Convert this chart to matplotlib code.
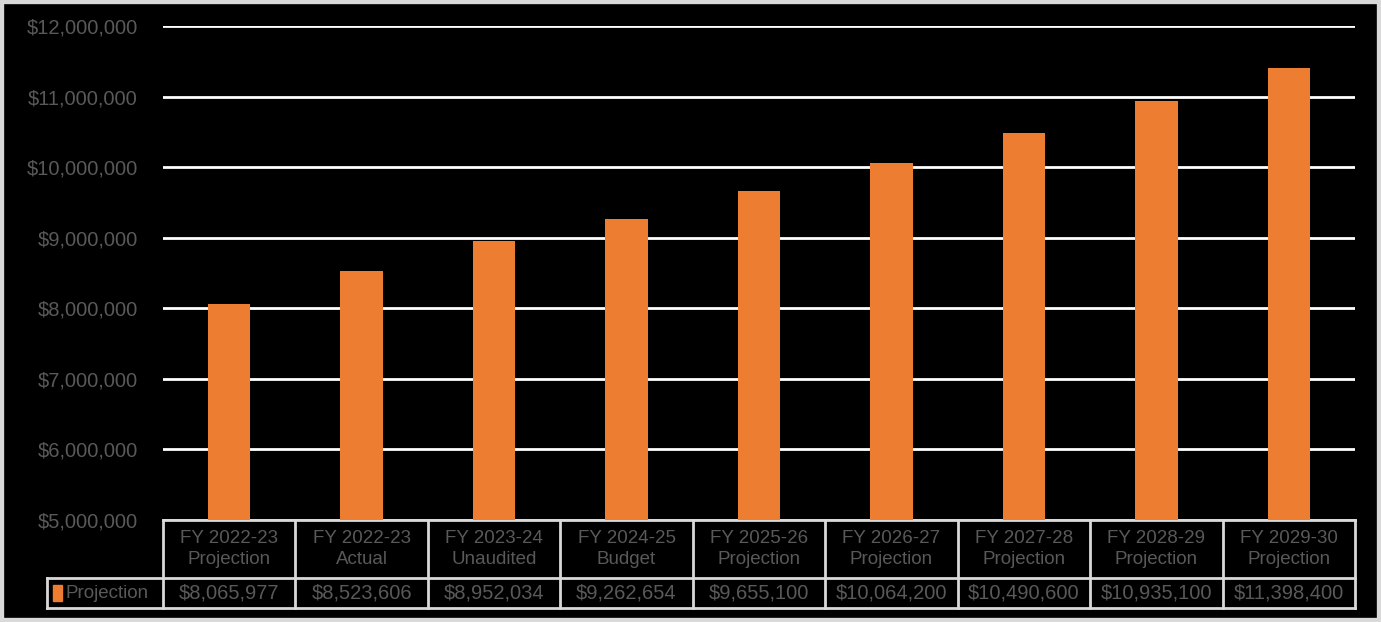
import matplotlib.pyplot as plt
from matplotlib.patches import Rectangle

plt.rcParams['font.family'] = ['Liberation Sans', 'DejaVu Sans']

# data
categories = ['FY 2022-23\nProjection', 'FY 2022-23\nActual', 'FY 2023-24\nUnaudited',
              'FY 2024-25\nBudget', 'FY 2025-26\nProjection', 'FY 2026-27\nProjection',
              'FY 2027-28\nProjection', 'FY 2028-29\nProjection', 'FY 2029-30\nProjection']
values = [8065977, 8523606, 8952034, 9262654, 9655100, 10064200, 10490600, 10935100, 11398400]
series_name = 'Projection'

bar_color = '#ED7D31'
text_color = '#595959'
line_color = '#d9d9d9'

fig = plt.figure(figsize=(13.81, 6.22), dpi=100, facecolor='black')
ax = fig.add_axes([163 / 1381, 1 - 520 / 622, (1355 - 163) / 1381, 494 / 622])
ax.set_facecolor('black')

x = list(range(len(categories)))
ax.bar(x, values, width=0.32, color=bar_color, zorder=3)

ax.set_xlim(-0.5, len(categories) - 0.5)
ax.set_ylim(5000000, 12000000)
ax.set_yticks(range(5000000, 12000001, 1000000))
ax.set_yticklabels(['${:,}'.format(v) for v in range(5000000, 12000001, 1000000)],
                   color=text_color, fontsize=14.5)
ax.tick_params(axis='y', length=0, pad=18)
ax.set_xticks([])
ax.grid(axis='y', color='white', linewidth=2, zorder=0)
for s in ax.spines.values():
    s.set_visible(False)

# data table below the axes
trans = ax.get_xaxis_transform()
h1 = -58 / 494
h2 = -88 / 494
left_legend = -0.5 - (163 - 47) / ((1355 - 163) / 9)
right = len(categories) - 0.5
kw = dict(color=line_color, linewidth=2, transform=trans, clip_on=False)
ax.plot([-0.5, right], [0, 0], **kw)
ax.plot([left_legend, right], [h1, h1], **kw)
ax.plot([left_legend, right], [h2, h2], **kw)
ax.plot([left_legend, left_legend], [h1, h2], **kw)
for i in range(len(categories) + 1):
    ax.plot([i - 0.5, i - 0.5], [0, h2], **kw)
for i, (c, v) in enumerate(zip(categories, values)):
    ax.text(i, h1 / 2, c, transform=trans, ha='center', va='center',
            color=text_color, fontsize=13.5, linespacing=1.25)
    ax.text(i, (h1 + h2) / 2, '${:,}'.format(v), transform=trans, ha='center',
            va='center', color=text_color, fontsize=14.5)

# legend key in table
ax.add_patch(Rectangle((left_legend + 0.045, (h1 + h2) / 2 - 0.016), 0.07, 0.032,
                       transform=trans, color=bar_color, clip_on=False))
ax.text(left_legend + 0.14, (h1 + h2) / 2, series_name, transform=trans, ha='left',
        va='center', color=text_color, fontsize=13.5)

# outer border of chart
fig.patches.append(Rectangle((0, 0), 1, 1, transform=fig.transFigure, fill=False,
                             edgecolor=line_color, linewidth=6))

fig.savefig('out.png', dpi=100, facecolor='black')
